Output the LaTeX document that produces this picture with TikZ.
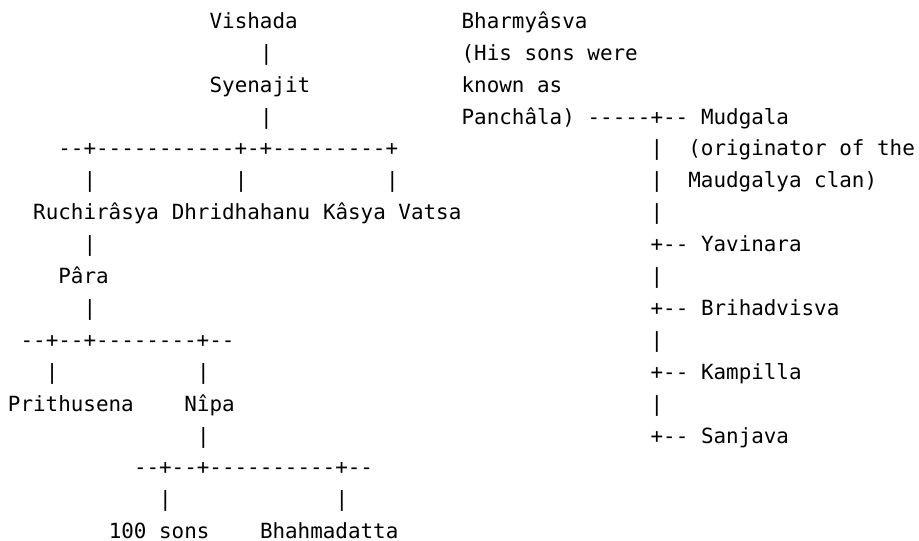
\documentclass[tikz,border=0pt]{standalone}
\usepackage{fontspec}
\setmonofont{DejaVu Sans Mono}
\usetikzlibrary{positioning}
\tikzset{
  cell/.style   = {anchor=base west, inner sep=0pt, outer sep=0pt,
                   font=\ttfamily\fontsize{20.9pt}{31.9pt}\selectfont},
  person/.style = {cell},
  wire/.style   = {cell},
  note/.style   = {cell}
}

\begin{document}
\begin{tikzpicture}[x=12.6pt, y=-31.9pt]

  \useasboundingbox (-8pt,-512.7pt) rectangle (911pt,28.3pt);

  % Vishada line
  \node[person] (Vis)  at (16,0) {Vishada};
  \node[wire]   (Vw1)  at (20,1) {|};
  \node[person] (Sye)  at (16,2) {Syenajit};
  \node[wire]   (Sw1)  at (20,3) {|};
  \node[wire]   (Sbar) at (4,4)  {--+-----------+-+---------+};
  \node[wire]   (Rw1)  at (6,5)  {|};
  \node[wire]   (Dw1)  at (18,5) {|};
  \node[wire]   (Kw1)  at (30,5) {|};

  \node[person] (Ruc)  at (2,6)  {Ruchirâsya};
  \node[person] (Dhr)  at (13,6) {Dhridhahanu};
  \node[person] (Kas)  at (25,6) {Kâsya Vatsa};

  \node[wire]   (Rw2)  at (6,7)  {|};
  \node[person] (Par)  at (4,8)  {Pâra};
  \node[wire]   (Pw1)  at (6,9)  {|};
  \node[wire]   (Pbar) at (1,10) {--+--+--------+--};
  \node[wire]   (Prw)  at (3,11) {|};
  \node[wire]   (Nw1)  at (15,11) {|};
  \node[person] (Pri)  at (0,12) {Prithusena};
  \node[person] (Nip)  at (14,12) {Nîpa};
  \node[wire]   (Nw2)  at (15,13) {|};
  \node[wire]   (Nbar) at (10,14) {--+--+----------+--};
  \node[wire]   (Hw)   at (12,15) {|};
  \node[wire]   (Bw)   at (26,15) {|};
  \node[person] (Hun)  at (8,16)  {100 sons};
  \node[person] (Bha)  at (20,16) {Bhahmadatta};

  % Bharmyasva line
  \node[person] (Bhr)  at (36,0) {Bharmyâsva};
  \node[note]   (Bn1)  at (36,1) {(His sons were};
  \node[note]   (Bn2)  at (36,2) {known as};
  \node[note]   (Bn3)  at (36,3) {Panchâla)};
  \node[wire]   (Bhw)  at (46,3) {-----+--};
  \node[person] (Mud)  at (55,3) {Mudgala};
  \node[wire]   (Mw1)  at (51,4) {|};
  \node[note]   (Mn1)  at (54,4) {(originator of the};
  \node[wire]   (Mw2)  at (51,5) {|};
  \node[note]   (Mn2)  at (54,5) {Maudgalya clan)};
  \node[wire]   (Mw3)  at (51,6) {|};
  \node[wire]   (Yw)   at (51,7) {+--};
  \node[person] (Yav)  at (55,7) {Yavinara};
  \node[wire]   (Yw2)  at (51,8) {|};
  \node[wire]   (Brw)  at (51,9) {+--};
  \node[person] (Bri)  at (55,9) {Brihadvisva};
  \node[wire]   (Brw2) at (51,10) {|};
  \node[wire]   (Kaw)  at (51,11) {+--};
  \node[person] (Kam)  at (55,11) {Kampilla};
  \node[wire]   (Kaw2) at (51,12) {|};
  \node[wire]   (Saw)  at (51,13) {+--};
  \node[person] (San)  at (55,13) {Sanjava};

\end{tikzpicture}
\end{document}
